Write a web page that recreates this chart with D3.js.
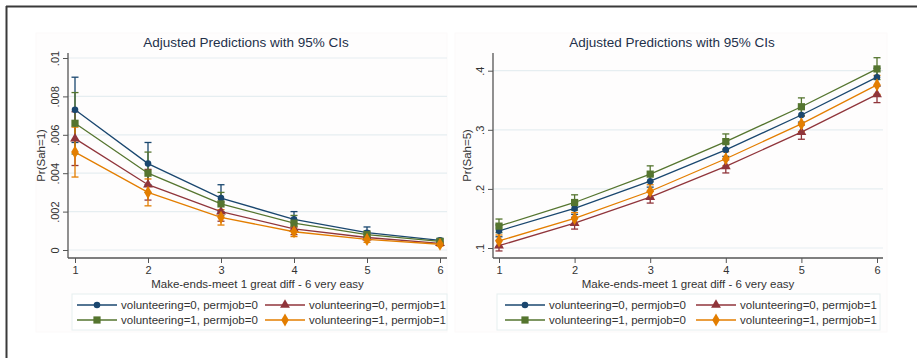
<!DOCTYPE html>
<html>
<head>
<meta charset="utf-8">
<script src="https://cdn.jsdelivr.net/npm/d3@7"></script>
<style>
  body { margin: 0; background: #fff; }
  svg { display: block; font-family: "Liberation Sans", Arial, sans-serif; }
</style>
</head>
<body>
<svg id="chart" width="917" height="358"></svg>
<script>
// x categories (make-ends-meet scale)
const xCats = [1, 2, 3, 4, 5, 6];

// series labels, in legend order
const seriesNames = [
  'volunteering=0, permjob=0',
  'volunteering=0, permjob=1',
  'volunteering=1, permjob=0',
  'volunteering=1, permjob=1'
];

// Pr(Sah=1) – left panel
const sah1_v0p0 = [0.0073, 0.0045, 0.0027, 0.0016, 0.0009, 0.0005];
const sah1_v0p0_lo = [0.0056, 0.0034, 0.0020, 0.0012, 0.0007, 0.0004];
const sah1_v0p0_hi = [0.0090, 0.0056, 0.0034, 0.0020, 0.0012, 0.0006];
const sah1_v0p1 = [0.0058, 0.0034, 0.0020, 0.0011, 0.00065, 0.00035];
const sah1_v0p1_lo = [0.0044, 0.0026, 0.0015, 0.0008, 0.0005, 0.00025];
const sah1_v0p1_hi = [0.0072, 0.0042, 0.0025, 0.0014, 0.0008, 0.00045];
const sah1_v1p0 = [0.0066, 0.0040, 0.0024, 0.0014, 0.0008, 0.00045];
const sah1_v1p0_lo = [0.0050, 0.0030, 0.0018, 0.0010, 0.0006, 0.00035];
const sah1_v1p0_hi = [0.0082, 0.0051, 0.0030, 0.0018, 0.0010, 0.00055];
const sah1_v1p1 = [0.0051, 0.0030, 0.0017, 0.00095, 0.00055, 0.0003];
const sah1_v1p1_lo = [0.0038, 0.0023, 0.0013, 0.0007, 0.0004, 0.0002];
const sah1_v1p1_hi = [0.0064, 0.0037, 0.0021, 0.0012, 0.0007, 0.0004];
const sah1Ticks = [0, 0.002, 0.004, 0.006, 0.008, 0.01];
const sah1TickLabels = ['0', '.002', '.004', '.006', '.008', '.01'];

// Pr(Sah=5) – right panel
const sah5_v0p0 = [0.129, 0.167, 0.213, 0.266, 0.325, 0.389];
const sah5_v0p0_lo = [0.119, 0.157, 0.203, 0.255, 0.313, 0.374];
const sah5_v0p0_hi = [0.139, 0.177, 0.223, 0.277, 0.337, 0.404];
const sah5_v0p1 = [0.104, 0.142, 0.186, 0.238, 0.296, 0.360];
const sah5_v0p1_lo = [0.095, 0.132, 0.176, 0.227, 0.284, 0.346];
const sah5_v0p1_hi = [0.113, 0.152, 0.196, 0.249, 0.308, 0.374];
const sah5_v1p0 = [0.137, 0.177, 0.225, 0.280, 0.339, 0.403];
const sah5_v1p0_lo = [0.126, 0.164, 0.212, 0.267, 0.324, 0.385];
const sah5_v1p0_hi = [0.149, 0.190, 0.239, 0.293, 0.354, 0.422];
const sah5_v1p1 = [0.112, 0.150, 0.196, 0.251, 0.310, 0.376];
const sah5_v1p1_lo = [0.102, 0.140, 0.185, 0.239, 0.297, 0.360];
const sah5_v1p1_hi = [0.122, 0.160, 0.207, 0.263, 0.323, 0.392];
const sah5Ticks = [0.1, 0.2, 0.3, 0.4];
const sah5TickLabels = ['.1', '.2', '.3', '.4'];

// stata s2color-ish palette
const colors = ['#1a476f', '#90353b', '#55752f', '#e37e00'];
const shapes = ['circle', 'triangle', 'square', 'diamond'];

const svg = d3.select('#chart');

// outer frame (only top and left edge show)
svg.append('line').attr('x1', 6).attr('x2', 917).attr('y1', 6.5).attr('y2', 6.5)
  .attr('stroke', '#3a3a3a').attr('stroke-width', 2);
svg.append('line').attr('x1', 6.5).attr('x2', 6.5).attr('y1', 6).attr('y2', 358)
  .attr('stroke', '#3a3a3a').attr('stroke-width', 2);

const symbol = (shape) => {
  if (shape === 'circle') return d3.symbol(d3.symbolCircle, 34)();
  if (shape === 'square') return d3.symbol(d3.symbolSquare, 52)();
  if (shape === 'triangle') return d3.symbol(d3.symbolTriangle, 42)();
  return d3.symbol(d3.symbolDiamond, 50)();
};

const drawPanel = (cfg) => {
  const g = svg.append('g');

  // graph region background
  g.append('rect')
    .attr('x', cfg.bg[0]).attr('y', 33)
    .attr('width', cfg.bg[1] - cfg.bg[0]).attr('height', 299)
    .attr('fill', '#fefdfd').attr('stroke', '#fcf9f9');

  const x = d3.scaleLinear().domain([1, 6]).range(cfg.xRange);
  const y = d3.scaleLinear().domain(cfg.yDomain).range(cfg.yRange);

  // gridlines
  g.selectAll('.grid').data(cfg.ticks).enter().append('line')
    .attr('x1', cfg.axisX).attr('x2', cfg.right)
    .attr('y1', d => y(d)).attr('y2', d => y(d))
    .attr('stroke', '#e6eef1').attr('stroke-width', 1.2);

  // y axis
  const yAxis = d3.axisLeft(y).tickValues(cfg.ticks)
    .tickFormat((d, i) => cfg.tickLabels[i]).tickSize(5).tickPadding(4);
  const ya = g.append('g').attr('transform', `translate(${cfg.axisX},0)`).call(yAxis);
  ya.select('.domain').attr('d', `M0,${53}V${258}`);
  ya.selectAll('text')
    .attr('transform', 'translate(-9,0) rotate(-90)')
    .attr('x', 0).attr('y', 0).attr('dy', '0').attr('text-anchor', 'middle');

  // x axis
  const xAxis = d3.axisBottom(x).tickValues(xCats).tickFormat(d3.format('d'))
    .tickSize(5).tickPadding(3);
  const xa = g.append('g').attr('transform', 'translate(0,258)').call(xAxis);
  xa.select('.domain').attr('d', `M${cfg.axisX},0H${cfg.right}`);

  [ya, xa].forEach(a => {
    a.attr('font-family', null);
    a.select('.domain').attr('stroke', '#555').attr('stroke-width', 1.3);
    a.selectAll('.tick line').attr('stroke', '#555');
    a.selectAll('text').attr('fill', '#333').attr('font-size', 11);
  });

  // titles
  g.append('text').attr('x', cfg.titleX).attr('y', 47)
    .attr('text-anchor', 'middle').attr('font-size', 13.5).attr('fill', '#23304a')
    .text('Adjusted Predictions with 95% CIs');
  g.append('text').attr('x', (cfg.xRange[0] + cfg.xRange[1]) / 2).attr('y', 288)
    .attr('text-anchor', 'middle').attr('font-size', 11.5).attr('fill', '#333')
    .text('Make-ends-meet 1 great diff - 6 very easy');
  g.append('text')
    .attr('transform', `translate(${cfg.yTitleX},${(53 + 258) / 2}) rotate(-90)`)
    .attr('text-anchor', 'middle').attr('font-size', 11.5).attr('fill', '#333')
    .text(cfg.yTitle);

  // confidence intervals, then lines and markers
  cfg.series.forEach((s, i) => {
    const cg = g.append('g').attr('stroke', colors[i]).attr('stroke-width', 1.3);
    xCats.forEach((c, j) => {
      const cx = x(c);
      cg.append('line').attr('x1', cx).attr('x2', cx)
        .attr('y1', y(s.lo[j])).attr('y2', y(s.hi[j]));
      cg.append('line').attr('x1', cx - 3.5).attr('x2', cx + 3.5)
        .attr('y1', y(s.lo[j])).attr('y2', y(s.lo[j]));
      cg.append('line').attr('x1', cx - 3.5).attr('x2', cx + 3.5)
        .attr('y1', y(s.hi[j])).attr('y2', y(s.hi[j]));
    });
  });

  cfg.series.forEach((s, i) => {
    const line = d3.line().x((d, j) => x(xCats[j])).y(d => y(d));
    g.append('path').datum(s.est).attr('d', line)
      .attr('fill', 'none').attr('stroke', colors[i]).attr('stroke-width', 1.3);
    g.selectAll(null).data(s.est).enter().append('path')
      .attr('d', symbol(shapes[i]))
      .attr('transform', (d, j) => `translate(${x(xCats[j])},${y(d)})`)
      .attr('fill', colors[i]);
  });

  // legend
  const lg = g.append('g');
  lg.append('rect').attr('x', cfg.legend.x).attr('y', 294)
    .attr('width', cfg.legend.w).attr('height', 36)
    .attr('fill', '#fff').attr('stroke', '#e6eff0');
  seriesNames.forEach((name, i) => {
    const col = i % 2, row = Math.floor(i / 2);
    const lx = cfg.legend.cols[col];
    const ly = 305 + row * 15;
    lg.append('line').attr('x1', lx).attr('x2', lx + 40)
      .attr('y1', ly).attr('y2', ly)
      .attr('stroke', colors[i]).attr('stroke-width', 1.3);
    lg.append('path').attr('d', symbol(shapes[i]))
      .attr('transform', `translate(${lx + 20},${ly})`).attr('fill', colors[i]);
    lg.append('text').attr('x', lx + 44).attr('y', ly + 4)
      .attr('font-size', 11.5).attr('fill', '#333').text(name);
  });
};

drawPanel({
  bg: [36, 447], axisX: 68, right: 447,
  xRange: [75, 440], yDomain: [0, 0.01], yRange: [250, 58],
  ticks: sah1Ticks, tickLabels: sah1TickLabels,
  titleX: 246, yTitleX: 45, yTitle: 'Pr(Sah=1)',
  legend: { x: 72, w: 375, cols: [77, 265] },
  series: [
    { est: sah1_v0p0, lo: sah1_v0p0_lo, hi: sah1_v0p0_hi },
    { est: sah1_v0p1, lo: sah1_v0p1_lo, hi: sah1_v0p1_hi },
    { est: sah1_v1p0, lo: sah1_v1p0_lo, hi: sah1_v1p0_hi },
    { est: sah1_v1p1, lo: sah1_v1p1_lo, hi: sah1_v1p1_hi }
  ]
});

drawPanel({
  bg: [455, 887], axisX: 493, right: 883,
  xRange: [499, 877], yDomain: [0.1, 0.4], yRange: [248, 70.7],
  ticks: sah5Ticks, tickLabels: sah5TickLabels,
  titleX: 672, yTitleX: 471, yTitle: 'Pr(Sah=5)',
  legend: { x: 497, w: 383, cols: [505, 696] },
  series: [
    { est: sah5_v0p0, lo: sah5_v0p0_lo, hi: sah5_v0p0_hi },
    { est: sah5_v0p1, lo: sah5_v0p1_lo, hi: sah5_v0p1_hi },
    { est: sah5_v1p0, lo: sah5_v1p0_lo, hi: sah5_v1p0_hi },
    { est: sah5_v1p1, lo: sah5_v1p1_lo, hi: sah5_v1p1_hi }
  ]
});
</script>
</body>
</html>
